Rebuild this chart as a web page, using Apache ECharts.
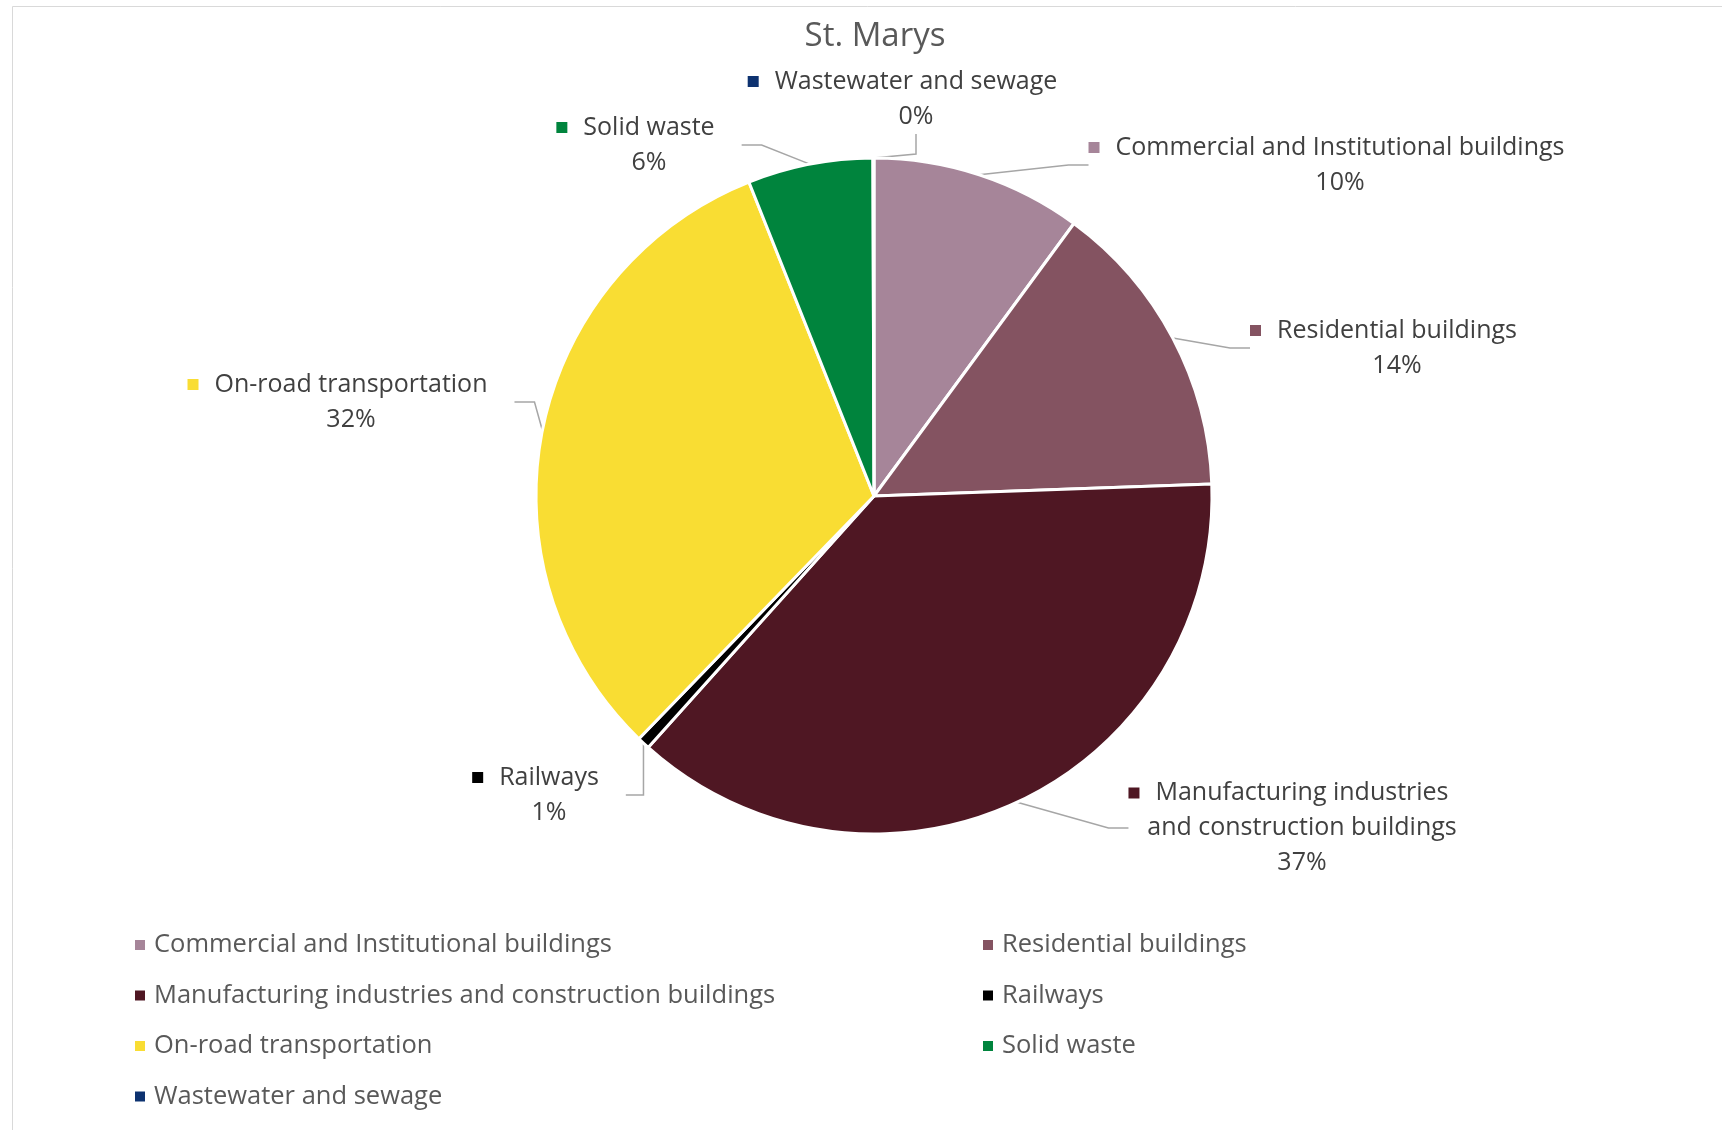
<!DOCTYPE html>
<html>
<head>
<meta charset="utf-8">
<script src="https://cdn.jsdelivr.net/npm/echarts@6/dist/echarts.min.js"></script>
<style>
  html, body { margin: 0; padding: 0; background: #ffffff; }
  #chart { width: 1722px; height: 1130px; }
</style>
</head>
<body>
<div id="chart"></div>
<script>
// ---- data ----
const categories = [
  'Commercial and Institutional buildings',
  'Residential buildings',
  'Manufacturing industries and construction buildings',
  'Railways',
  'On-road transportation',
  'Solid waste',
  'Wastewater and sewage'
];
const values = [10.1, 14.4, 37.3, 0.6, 31.8, 6.0, 0.05];
const colors = ['#A68599', '#845361', '#4F1723', '#000000', '#F9DD33', '#00843D', '#0D3270'];
const labelNames = [
  'Commercial and Institutional buildings',
  'Residential buildings',
  'Manufacturing industries\nand construction buildings',
  'Railways',
  'On-road transportation',
  'Solid waste',
  'Wastewater and sewage'
];
const legendLeftCol = [categories[0], categories[2], categories[4], categories[6]];
const legendRightCol = [categories[1], categories[3], categories[5]];

// ---- label placement (layout, px) ----
const labelPlace = [
  [1340, 165], [1397, 348], [1302, 828], [549, 795], [351, 402], [649, 145], [916, 99]
];

const FONT = 'Open Sans';
const rich = {
  g: { width: 16 },
  r: { width: 27 },
  n: { fontFamily: FONT, fontSize: 25, color: '#404040', lineHeight: 35 }
};
colors.forEach((c, i) => { rich['m' + i] = { width: 11, height: 11, backgroundColor: c }; });

const chart = echarts.init(document.getElementById('chart'));
chart.setOption({
  backgroundColor: '#ffffff',
  animation: false,
  title: {
    text: 'St. Marys',
    left: 870,
    textAlign: 'center',
    top: 15,
    textStyle: { fontFamily: FONT, fontSize: 33, fontWeight: 'normal', color: '#595959' }
  },
  graphic: [{
    type: 'rect', silent: true,
    shape: { x: 12.5, y: 6.5, width: 1800, height: 1200 },
    style: { fill: 'none', stroke: '#D9D9D9', lineWidth: 1 }
  }],
  legend: [
    {
      data: legendLeftCol, orient: 'vertical', left: 128, top: 925,
      icon: 'rect', itemWidth: 12, itemHeight: 12, itemGap: 20.5,
      textStyle: { fontFamily: FONT, fontSize: 25.5, color: '#595959', lineHeight: 30, padding: [0, 0, 0, 3] }
    },
    {
      data: legendRightCol, orient: 'vertical', left: 976, top: 925,
      icon: 'rect', itemWidth: 12, itemHeight: 12, itemGap: 20.5,
      textStyle: { fontFamily: FONT, fontSize: 25.5, color: '#595959', lineHeight: 30, padding: [0, 0, 0, 3] }
    }
  ],
  series: [{
    type: 'pie',
    center: [874, 496],
    radius: [0, 338],
    startAngle: 90,
    clockwise: true,
    avoidLabelOverlap: false,
    minShowLabelAngle: 0,
    itemStyle: { borderColor: '#ffffff', borderWidth: 3 },
    label: {
      show: true,
      position: 'outside',
      align: 'center',
      fontFamily: FONT,
      fontSize: 25,
      color: '#404040',
      lineHeight: 35,
      formatter: function (p) {
        const lines = labelNames[p.dataIndex].split('\n');
        let s = '{m' + p.dataIndex + '|}{g|}{n|' + lines[0] + '}{r|}';
        for (let k = 1; k < lines.length; k++) s += '\n{n|' + lines[k] + '}';
        s += '\n{n|' + Math.round(p.percent) + '%}';
        return s;
      },
      rich: rich
    },
    labelLine: { show: true, length: 20, length2: 20, lineStyle: { color: '#A6A6A6', width: 1.5 } },
    labelLayout: function (params) {
      const pos = labelPlace[params.dataIndex];
      return { x: pos[0], y: pos[1], align: 'center', verticalAlign: 'middle' };
    },
    data: categories.map((c, i) => ({ name: c, value: values[i], itemStyle: { color: colors[i] } }))
  }]
});
</script>
</body>
</html>
